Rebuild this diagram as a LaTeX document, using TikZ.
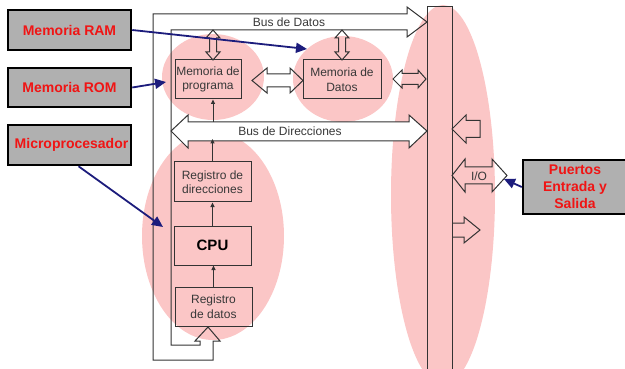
\documentclass[tikz,border=0pt]{standalone}
\usepackage{fontspec}
\setmainfont{Liberation Sans}
\definecolor{mpPink}{HTML}{FBC6C6}
\definecolor{mpLine}{HTML}{333333}
\definecolor{mpText}{HTML}{383838}
\definecolor{mpRed}{HTML}{F01414}
\definecolor{mpGray}{HTML}{B0B0B0}
\definecolor{mpNavy}{HTML}{1C1C7C}
\usetikzlibrary{calc,positioning,arrows.meta}

\begin{document}
\begin{tikzpicture}[x=1pt, y=-1pt,
  block/.style={draw=mpLine, line width=1pt, minimum height=39pt, inner sep=1pt, align=center, text=mpText, font=\fontsize{12}{14.5}\selectfont},
  tag/.style={draw=black, line width=2.5pt, fill=mpGray, inner sep=0pt, align=center, text=mpRed, font=\fontsize{14}{17}\selectfont\bfseries},
  pointer/.style={mpNavy, line width=1.8pt, -{Triangle[length=11pt,width=10pt]}},
  link/.style={mpLine, line width=1pt, -{Triangle[length=4.5pt,width=4pt]}},
  hollow/.style={draw=mpLine, line width=1pt, line join=miter},
  buslabel/.style={text=mpText, font=\fontsize{12}{14}\selectfont}]
  \useasboundingbox (0,0) rectangle (625,369);
  \clip (0,0) rectangle (625,369);

  % pink zones
  \fill[mpPink] (213,77) ellipse [x radius=51pt, y radius=43pt];
  \fill[mpPink] (343,79) ellipse [x radius=50pt, y radius=43pt];
  \fill[mpPink] (213,236) ellipse [x radius=71pt, y radius=104pt];
  \fill[mpPink] (443,195) ellipse [x radius=52pt, y radius=190pt];

  % blocks
  \node[block, minimum width=66pt] (prog) at (208,79.5) {Memoria de\\programa};
  \node[block, minimum width=78pt] (datos) at (342,79.5) {Memoria de\\Datos};
  \node[block, minimum width=77pt, minimum height=40pt] (regdir) at (212.5,182) {Registro de\\direcciones};
  \node[block, minimum width=77pt, font=\fontsize{15}{18}\selectfont\bfseries, text=black] (cpu) at (212.5,245.5) {CPU};
  \node[block, minimum width=77pt] (regdat) at (213.5,306.5) {Registro\\de datos};

  % buses
  \draw[hollow] (208,327) -- (220,341) -- (213,341) -- (213,360) -- (153,360) -- (153,14)
    -- (407,14) -- (407,7) -- (427,22) -- (407,37) -- (407,30) -- (171,30) -- (171,345)
    -- (200,345) -- (200,341) -- (195,341) -- cycle;
  \node[buslabel] (busdat) at (289,22) {Bus de Datos};
  \draw[hollow, fill=white] (171,131) -- (188,115) -- (188,122) -- (409,122) -- (409,115)
    -- (427,131) -- (409,148) -- (409,141) -- (188,141) -- (188,148) -- cycle;
  \node[buslabel] (busdir) at (290,131) {Bus de Direcciones};
  \draw[hollow] (427,369) -- (427,7) -- (452,7) -- (452,369);

  % hollow arrows
  \draw[hollow] (213,30) -- (220,38) -- (216.5,38) -- (216.5,52) -- (220,52) -- (213,60)
    -- (206,52) -- (209.5,52) -- (209.5,38) -- (206,38) -- cycle;
  \draw[hollow] (342,30) -- (349,38) -- (345.5,38) -- (345.5,52) -- (349,52) -- (342,60)
    -- (335,52) -- (338.5,52) -- (338.5,38) -- (335,38) -- cycle;
  \draw[hollow] (252,80.5) -- (267,68) -- (267,74) -- (290,74) -- (290,68) -- (303,80.5)
    -- (290,93) -- (290,87) -- (267,87) -- (267,93) -- cycle;
  \draw[hollow] (393,79) -- (402,70) -- (402,73.5) -- (418,73.5) -- (418,70) -- (426,79)
    -- (418,88) -- (418,84.5) -- (402,84.5) -- (402,88) -- cycle;
  \draw[hollow] (452,129) -- (466,115) -- (466,120.5) -- (480,120.5) -- (480,137.5)
    -- (466,137.5) -- (466,143) -- cycle;
  \draw[hollow] (452,175.5) -- (465,159) -- (465,167) -- (492,167) -- (492,159) -- (507,175.5)
    -- (492,192) -- (492,184) -- (465,184) -- (465,192) -- cycle;
  \node[buslabel] (iolabel) at (479,176) {I/O};
  \draw[hollow] (452,223) -- (464,223) -- (464,217) -- (480,230) -- (464,243) -- (464,237)
    -- (452,237);

  % thin links
  \draw[link] (regdat.north) -- (regdat.north |- cpu.south);
  \draw[link] (cpu.north) -- (regdir.south);
  \draw[link] (regdir.north) -- (regdir.north |- busdir.south);
  \draw[link] (213,122) -- (prog.south -| 213,0);

  % labels
  \node[tag, minimum width=123pt, minimum height=40pt] (ram) at (69.5,30) {Memoria RAM};
  \node[tag, minimum width=123pt, minimum height=39pt] (rom) at (69.5,87.5) {Memoria ROM};
  \node[tag, minimum width=123pt, minimum height=40pt] (micro) at (69.5,145) {\hspace*{4pt}Microprocesador};
  \node[tag, minimum width=104pt, minimum height=54pt] (io) at (575,187) {Puertos\\Entrada y\\Salida};

  \coordinate (ramtip) at (307,49);
  \coordinate (romtip) at (166,82);
  \coordinate (microtip) at (163,227);
  \coordinate (iotip) at (504,179);
  \draw[pointer] (ram.east) -- (ramtip);
  \draw[pointer] (rom.east) -- (romtip);
  \draw[pointer] ([xshift=9pt]micro.south) -- (microtip);
  \draw[pointer] (io.west) -- (iotip);
\end{tikzpicture}
\end{document}
